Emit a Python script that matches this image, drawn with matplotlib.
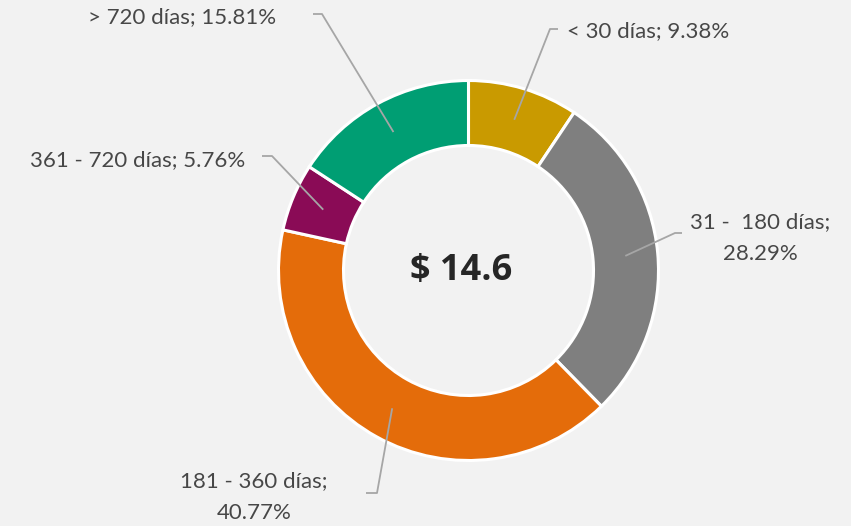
import numpy as np
import matplotlib.pyplot as plt

# aging buckets and their share of the total
categories = ["< 30 días", "31 -  180 días", "181 - 360 días", "361 - 720 días", "> 720 días"]
shares = [9.38, 28.29, 40.77, 5.76, 15.81]
total_label = "$ 14.6"

colors = ["#C99A00", "#7F7F7F", "#E46C0A", "#8A0B56", "#009E73"]

W, H = 851, 526
BG = "#F2F2F2"

fig = plt.figure(figsize=(W / 100, H / 100), dpi=100, facecolor=BG)
ax = fig.add_axes([0, 0, 1, 1])
ax.set_facecolor(BG)
ax.set_xlim(0, W)
ax.set_ylim(0, H)
ax.set_aspect("equal")
ax.axis("off")


def py(y):
    # pixel row from the top -> data y
    return H - y


cx, cy = 468.5, py(270.5)
R, ring = 190, 65

wedges, _ = ax.pie(shares, colors=colors, startangle=90, counterclock=False,
                   center=(cx, cy), radius=R,
                   wedgeprops=dict(width=ring, edgecolor="white", linewidth=2.2))
ax.set_xlim(0, W)
ax.set_ylim(0, H)

ax.text(cx - 7, cy, total_label, ha="center", va="center", fontsize=26,
        fontweight="bold", family="Open Sans", color="#262626")

# label layout: (text, x, y, ha, elbow, end)
label_font = dict(family="Lato", fontsize=16, color="#474747")
layout = [
    (f"{categories[0]}; {shares[0]:.2f}%", 567, 31, "left", (550, 29), (558, 29)),
    (f"{categories[1]};\n{shares[1]:.2f}%", 760, 238, "center", (675, 233), (682, 233)),
    (f"{categories[2]};\n{shares[2]:.2f}%", 254, 497, "center", (377, 493), (366, 493)),
    (f"{categories[3]}; {shares[3]:.2f}%", 245, 160, "right", (272, 156), (262, 156)),
    (f"{categories[4]}; {shares[4]:.2f}%", 276, 17, "right", (322, 14), (313, 14)),
]

r_mid = R - ring / 2
for w, (txt, tx, ty, ha, elbow, end) in zip(wedges, layout):
    ang = np.deg2rad((w.theta1 + w.theta2) / 2)
    ax0, ay0 = cx + r_mid * np.cos(ang), cy + r_mid * np.sin(ang)
    ax.plot([ax0, elbow[0], end[0]], [ay0, py(elbow[1]), py(end[1])],
            color="#A6A6A6", lw=1.3, solid_capstyle="butt")
    ax.text(tx, py(ty), txt, ha=ha, va="center", linespacing=1.7, **label_font)

fig.savefig("out.png", dpi=100, facecolor=BG)
